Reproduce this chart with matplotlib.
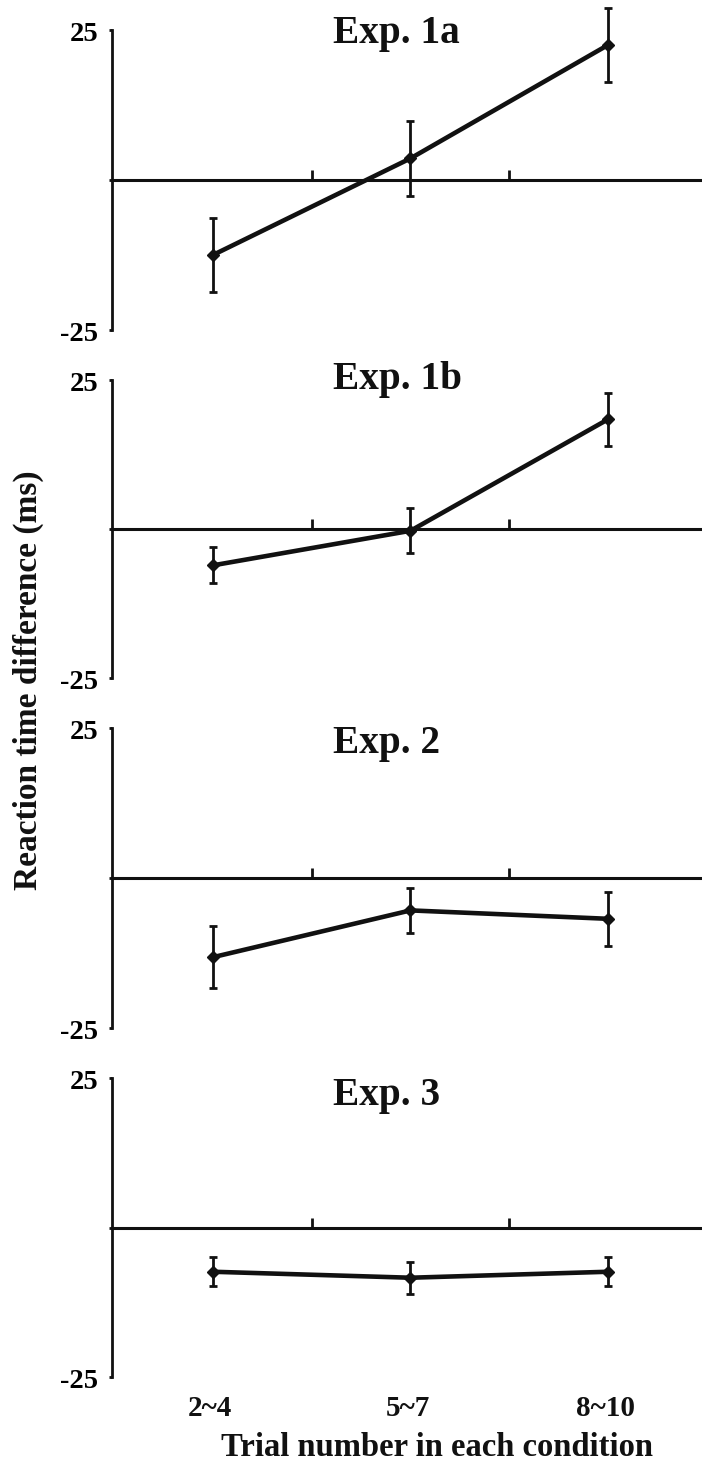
import matplotlib
matplotlib.use('Agg')
import matplotlib.pyplot as plt
import matplotlib.transforms as mtransforms

plt.rcParams['font.family'] = ['Liberation Serif', 'DejaVu Serif']
plt.rcParams['font.weight'] = 'bold'

categories = ['2~4', '5~7', '8~10']
panel_titles = ['Exp. 1a', 'Exp. 1b', 'Exp. 2', 'Exp. 3']
exp1a_mean = [-12.5, 3.6, 22.5]
exp1a_err = [6.1, 6.3, 6.2]
exp1b_mean = [-6.1, -0.3, 18.4]
exp1b_err = [3.0, 3.8, 4.5]
exp2_mean = [-13.2, -5.4, -6.8]
exp2_err = [5.2, 3.7, 4.5]
exp3_mean = [-7.4, -8.4, -7.4]
exp3_err = [2.4, 2.7, 2.4]
y_ticks = [-25, 0, 25]
y_ticklabels = ['-25', '', '25']
x_label = 'Trial number in each condition'
y_label = 'Reaction time difference (ms)'

means = [exp1a_mean, exp1b_mean, exp2_mean, exp3_mean]
errs = [exp1a_err, exp1b_err, exp2_err, exp3_err]

W, H = 702, 1463
DPI = 100
fig = plt.figure(figsize=(W / DPI, H / DPI), dpi=DPI)
fig.patch.set_facecolor('white')

panel_px = [(30, 330), (380, 678), (728, 1028), (1078, 1377)]
title_axes_y = [0.957, 0.97, 0.917, 0.91]
left_px, right_px = 112, 702
col = '#111111'
xs = list(range(1, len(categories) + 1))
label_shift = mtransforms.ScaledTranslation(0, -3.5 / 72, fig.dpi_scale_trans)

for i, (top, bot) in enumerate(panel_px):
    ax = fig.add_axes([left_px / W, 1 - bot / H, (right_px - left_px) / W, (bot - top) / H])
    ax.set_facecolor('none')
    ax.set_xlim(0.489, 3.476)
    ax.set_ylim(-25, 25)
    ax.errorbar(xs, means[i], yerr=errs[i], color=col, lw=3.3, marker='D', ms=6.5,
                ecolor=col, elinewidth=2.0, capsize=3.0, capthick=2.0, clip_on=False, zorder=3)
    for s in ['top', 'right']:
        ax.spines[s].set_visible(False)
    ax.spines['left'].set_bounds(-25, 25)
    ax.spines['left'].set_linewidth(2.0)
    ax.spines['left'].set_color(col)
    ax.spines['bottom'].set_position(('data', 0))
    ax.spines['bottom'].set_linewidth(2.2)
    ax.spines['bottom'].set_color(col)
    ax.set_xticks([1.5, 2.5])
    ax.tick_params(axis='x', direction='in', length=7, width=2, color=col, labelbottom=False)
    ax.set_yticks(y_ticks)
    ax.set_yticklabels(y_ticklabels)
    ax.tick_params(axis='y', direction='out', length=2, width=2, color=col, pad=8,
                   labelsize=20.5)
    for lab in ax.get_yticklabels():
        lab.set_fontweight('bold')
        lab.set_verticalalignment('center')
        lab.set_transform(lab.get_transform() + label_shift)
    ax.text(1.61, title_axes_y[i], panel_titles[i],
            transform=mtransforms.blended_transform_factory(ax.transData, ax.transAxes),
            fontsize=28.3, fontweight='bold', ha='left', va='baseline', color=col)
    if i == len(panel_px) - 1:
        trans = mtransforms.blended_transform_factory(ax.transData, ax.transAxes)
        for x, c in zip(xs, categories):
            ax.text(x - 0.015, -0.104, c, transform=trans, ha='center', va='center',
                    fontsize=21, fontweight='bold', color=col)

fig.text(437 / W, 1 - 1448 / H, x_label, ha='center', va='center', fontsize=23.5,
         fontweight='bold', color=col)
fig.text(28 / W, 1 - 680 / H, y_label, ha='center', va='center', rotation=90,
         fontsize=24, fontweight='bold', color=col)

fig.savefig('out.png', dpi=DPI, facecolor='white')
